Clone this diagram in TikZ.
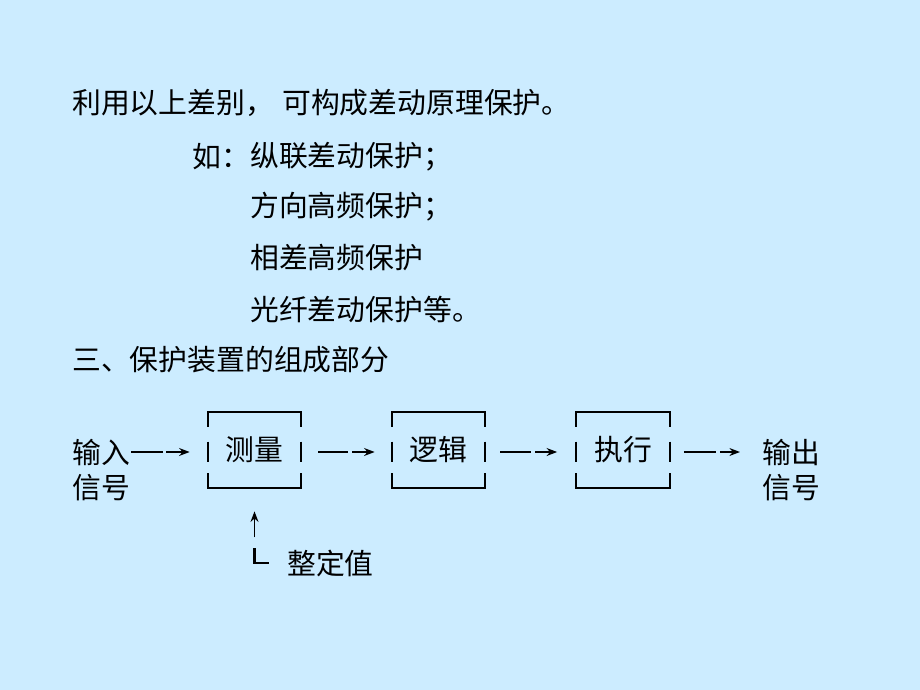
\documentclass[tikz,border=0pt]{standalone}
\usepackage{fontspec}
\setmainfont{Noto Sans CJK SC}
\usetikzlibrary{calc,arrows.meta}
\definecolor{bg}{RGB}{204,236,255}
\begin{document}
\begin{tikzpicture}[x=0.02cm,y=-0.02cm,
  txt/.style={font=\fontsize{16.4}{18}\selectfont,inner sep=0pt,anchor=west},
  bx/.style={minimum width=1.86cm,minimum height=1.52cm,inner sep=0pt,font=\fontsize{16.4}{18}\selectfont},
  ln/.style={line width=1.2pt},
  ar/.style={line width=0.9pt,-{Stealth[length=6pt,width=4.5pt]}}]
\fill[bg] (0,0) rectangle (920,690);
\useasboundingbox (0,0) rectangle (920,690);
\node[txt] (t1a) at (72,103) {利用以上差别，};
\node[txt] (t1b) at (282,103) {可构成差动原理保护。};
\node[txt] (t2a) at (192,157) {如：};
\node[txt] (t2) at (250,157) {纵联差动保护；};
\node[txt] (t3) at (250,207) {方向高频保护；};
\node[txt] (t4) at (250,258) {相差高频保护};
\node[txt] (t5) at (250,310) {光纤差动保护等。};
\node[txt] (t6) at (72,360) {三、保护装置的组成部分};
\node[txt] (in1) at (72,452) {输入};
\node[txt] (in2) at (72,488) {信号};
\node[txt] (out1) at (762,452) {输出};
\node[txt] (out2) at (762,488) {信号};
\node[bx] (m1) at (254.5,450) {测量};
\node[bx] (m2) at (438.5,450) {逻辑};
\node[bx] (m3) at (623,450) {执行};
\node[txt] (set) at (287,563) {整定值};
\foreach \b in {m1,m2,m3}{
  \draw[ln] ($(\b.north west)+(0,15)$) -- (\b.north west) -- (\b.north east) -- ($(\b.north east)+(0,15)$);
  \draw[ln] ($(\b.south west)+(0,-15)$) -- (\b.south west) -- (\b.south east) -- ($(\b.south east)+(0,-15)$);
  \draw[ln] ($(\b.north west)+(0,30)$) -- ($(\b.north west)+(0,50)$);
  \draw[ln] ($(\b.north east)+(0,30)$) -- ($(\b.north east)+(0,50)$);
}
% connectors
\draw[ln] ($(in1.east)+(1,0)$) -- ++(32,0);
\draw[ar] ($(in1.east)+(36,0)$) -- ($(m1.west)+(-18,2)$);
\draw[ln] ($(m1.east)+(17,2)$) -- ++(30,0);
\draw[ar] ($(m1.east)+(51,2)$) -- ($(m2.west)+(-17,2)$);
\draw[ln] ($(m2.east)+(15,2)$) -- ++(31,0);
\draw[ar] ($(m2.east)+(50,2)$) -- ($(m3.west)+(-19,2)$);
\draw[ln] ($(m3.east)+(14,2)$) -- ++(32,0);
\draw[ar] ($(m3.east)+(50,2)$) -- ($(out1.west)+(-22,0)$);
% setting value
\coordinate (up) at ($(m1.south)+(0,49)$);
\draw[ar,line width=0.8pt] (up) -- ($(m1.south)+(0,23)$);
\draw[ln] ($(m1.south)+(0,60)$) |- ($(set.west)+(-18,0)$);
\end{tikzpicture}
\end{document}
